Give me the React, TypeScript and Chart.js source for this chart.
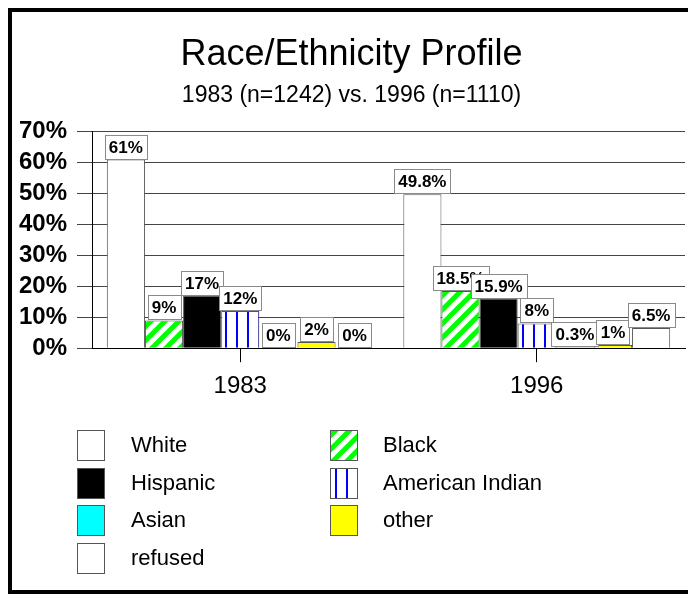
import React, { useEffect, useRef } from "react";
import { Chart, registerables } from "chart.js";

Chart.register(...registerables);

const categories = ["1983", "1996"];
const seriesNames = ["White", "Black", "Hispanic", "American Indian", "Asian", "other", "refused"];
const whiteValues = [61, 49.8];
const blackValues = [9, 18.5];
const hispanicValues = [17, 15.9];
const americanIndianValues = [12, 8];
const asianValues = [0, 0.3];
const otherValues = [2, 1];
const refusedValues = [0, 6.5];
const yTickValues = [0, 10, 20, 30, 40, 50, 60, 70];
const titleText = "Race/Ethnicity Profile";
const subtitleText = "1983 (n=1242) vs. 1996 (n=1110)";

const FONT = "'Liberation Sans', Arial, Helvetica, sans-serif";

function makeDiagonalPattern(ctx: CanvasRenderingContext2D) {
  const s = 14;
  const c = document.createElement("canvas");
  c.width = s;
  c.height = s;
  const g = c.getContext("2d")!;
  g.fillStyle = "#ffffff";
  g.fillRect(0, 0, s, s);
  g.strokeStyle = "#00ff00";
  g.lineWidth = 5;
  g.lineCap = "square";
  const lines = [
    [-s, s, s, -s],
    [0, s, s, 0],
    [0, 2 * s, 2 * s, 0],
  ];
  for (const [x1, y1, x2, y2] of lines) {
    g.beginPath();
    g.moveTo(x1, y1);
    g.lineTo(x2, y2);
    g.stroke();
  }
  return ctx.createPattern(c, "repeat")!;
}

function makeVerticalPattern(ctx: CanvasRenderingContext2D) {
  const w = 11;
  const c = document.createElement("canvas");
  c.width = w;
  c.height = 4;
  const g = c.getContext("2d")!;
  g.fillStyle = "#ffffff";
  g.fillRect(0, 0, w, 4);
  g.fillStyle = "#0000ff";
  g.fillRect(4, 0, 2, 4);
  return ctx.createPattern(c, "repeat")!;
}

const dataLabelPlugin = {
  id: "dataLabels",
  afterDatasetsDraw(chart: any) {
    const ctx = chart.ctx as CanvasRenderingContext2D;
    ctx.save();
    ctx.font = `bold 17px ${FONT}`;
    ctx.textAlign = "center";
    ctx.textBaseline = "middle";
    chart.data.datasets.forEach((ds: any, di: number) => {
      const meta = chart.getDatasetMeta(di);
      meta.data.forEach((el: any, i: number) => {
        const txt = `${ds.data[i]}%`;
        const tw = ctx.measureText(txt).width;
        const bw = Math.round(tw + 8);
        const bh = 24;
        const bx = Math.round(el.x - bw / 2) + 0.5;
        const by = Math.round(el.y - bh - 1) + 0.5;
        ctx.fillStyle = "#ffffff";
        ctx.fillRect(bx, by, bw, bh);
        ctx.strokeStyle = "#8a8a8a";
        ctx.lineWidth = 1;
        ctx.strokeRect(bx, by, bw, bh);
        ctx.fillStyle = "#000000";
        ctx.fillText(txt, el.x, by + bh / 2 + 1);
      });
    });
    ctx.restore();
  },
};

const legendPlugin = {
  id: "customLegend",
  afterDraw(chart: any) {
    const ctx = chart.ctx as CanvasRenderingContext2D;
    const cols = [
      { sx: 65, tx: 119 },
      { sx: 318, tx: 371 },
    ];
    const top = 418;
    const pitch = 37.5;
    ctx.save();
    ctx.font = `22px ${FONT}`;
    ctx.textAlign = "left";
    ctx.textBaseline = "middle";
    chart.data.datasets.forEach((ds: any, i: number) => {
      const col = cols[i % 2];
      const row = Math.floor(i / 2);
      const y = Math.round(top + row * pitch);
      ctx.fillStyle = ds.backgroundColor;
      ctx.fillRect(col.sx, y, 27, 30);
      ctx.strokeStyle = "#555555";
      ctx.lineWidth = 1;
      ctx.strokeRect(col.sx + 0.5, y + 0.5, 27, 30);
      ctx.fillStyle = "#000000";
      ctx.fillText(ds.label, col.tx, y + 16);
    });
    ctx.restore();
  },
};

export default function App() {
  const ref = useRef<HTMLCanvasElement | null>(null);
  useEffect(() => {
    const canvas = ref.current!;
    const ctx = canvas.getContext("2d")!;
    const diag = makeDiagonalPattern(ctx);
    const vert = makeVerticalPattern(ctx);
    const valueLists = [
      whiteValues,
      blackValues,
      hispanicValues,
      americanIndianValues,
      asianValues,
      otherValues,
      refusedValues,
    ];
    const fills: any[] = ["#ffffff", diag, "#000000", vert, "#00ffff", "#ffff00", "#ffffff"];
    const chart = new Chart(canvas, {
      type: "bar",
      data: {
        labels: categories,
        datasets: seriesNames.map((name, i) => ({
          label: name,
          data: valueLists[i],
          backgroundColor: fills[i],
          borderColor: "#555555",
          borderWidth: 1,
          categoryPercentage: 0.9,
          barPercentage: 1.0,
        })),
      },
      options: {
        responsive: false,
        animation: false,
        devicePixelRatio: 1,
        layout: { padding: { left: 6, right: 3, top: 0, bottom: 179 } },
        plugins: {
          legend: { display: false },
          tooltip: { enabled: false },
          title: {
            display: true,
            text: titleText,
            color: "#000000",
            font: { family: FONT, size: 36, weight: "normal" },
            padding: { top: 21, bottom: 6 },
          },
          subtitle: {
            display: true,
            text: subtitleText,
            color: "#000000",
            font: { family: FONT, size: 23, weight: "normal" },
            padding: { top: 0, bottom: 22 },
          },
        },
        scales: {
          x: {
            offset: true,
            grid: {
              display: true,
              drawOnChartArea: false,
              offset: false,
              tickLength: 14,
              color: "#000000",
            },
            border: { display: true, color: "#000000", width: 1 },
            ticks: {
              color: "#000000",
              padding: 10,
              font: { family: FONT, size: 24, weight: "normal" },
            },
          },
          y: {
            min: 0,
            max: 70,
            afterBuildTicks: (axis: any) => {
              axis.ticks = yTickValues.map((v) => ({ value: v }));
            },
            afterFit: (axis: any) => {
              axis.width = 74;
            },
            grid: {
              display: true,
              color: "#444444",
              tickLength: 15,
            },
            border: { display: true, color: "#000000", width: 1 },
            ticks: {
              autoSkip: false,
              color: "#000000",
              padding: 10,
              font: { family: FONT, size: 24, weight: "bold" },
              callback: (v: any) => `${v}%`,
            },
          },
        },
      },
      plugins: [dataLabelPlugin, legendPlugin],
    });
    return () => chart.destroy();
  }, []);
  return (
    <div
      style={{
        width: 676,
        height: 578,
        border: "4px solid #000",
        boxShadow: "12px 12px 0 #000",
        background: "#fff",
      }}
    >
      <canvas ref={ref} width={676} height={578} style={{ display: "block" }} />
    </div>
  );
}
